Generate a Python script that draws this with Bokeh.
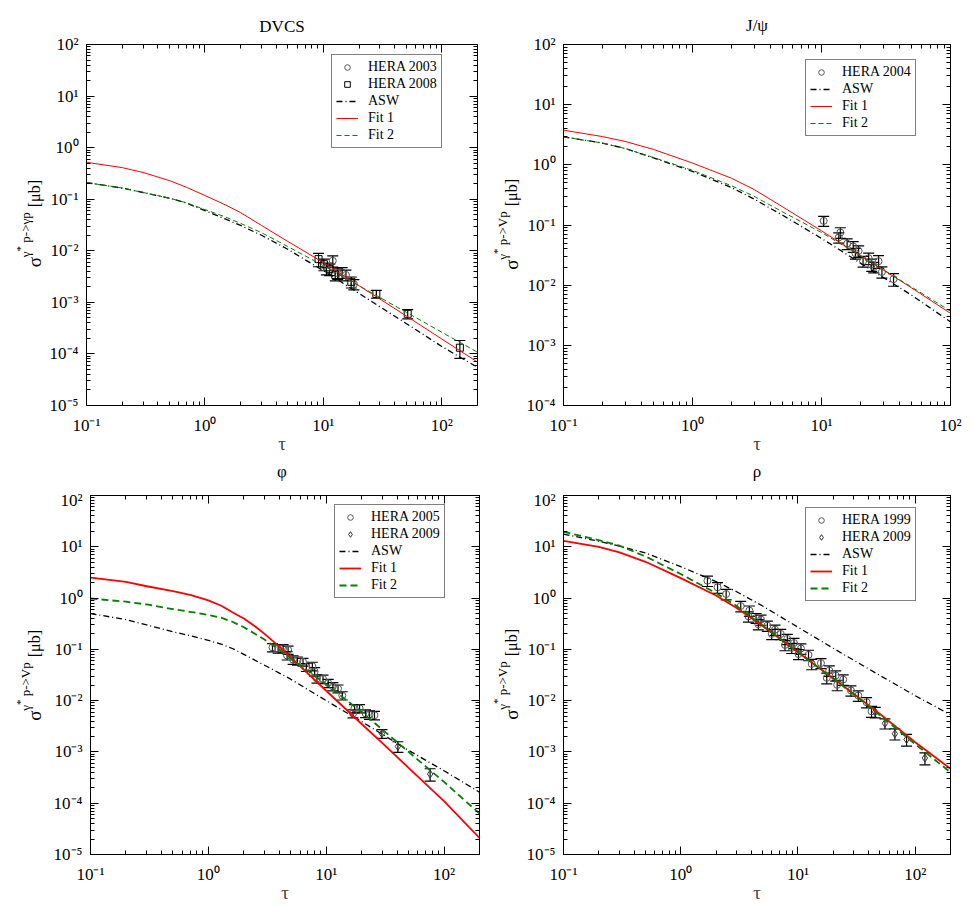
import math
from bokeh.plotting import figure
from bokeh.models import (LogAxis, FixedTicker, CustomJSTickFormatter, Legend, Div, Title,
                          LegendItem, Whisker, TeeHead, ColumnDataSource, Range1d)
from bokeh.layouts import row, column
from bokeh.embed import file_html
from bokeh.resources import INLINE

FONT = "Liberation Serif"

# ---------------- DVCS ----------------
dvcs_tau = [0.1, 0.2, 0.3, 0.5, 0.7, 1, 1.5, 2, 3, 5, 10, 20, 30, 50, 100, 200]
dvcs_fit1 = [0.52, 0.41, 0.33, 0.23, 0.17, 0.118, 0.077, 0.055, 0.031, 0.0152, 0.0059, 0.0021, 0.00116, 0.000546, 0.000194, 0.0000695]
dvcs_fit2 = [0.21, 0.165, 0.135, 0.105, 0.085, 0.063, 0.045, 0.034, 0.0225, 0.0121, 0.00515, 0.0021, 0.00124, 0.000645, 0.000263, 0.000108]
dvcs_asw = [0.21, 0.165, 0.135, 0.105, 0.084, 0.060, 0.041, 0.031, 0.0200, 0.0107, 0.0041, 0.00149, 0.00082, 0.00039, 0.000139, 0.000055]
dvcs_h03_tau = [10.6, 12.0, 13.2, 14.4, 15.5, 18.1]
dvcs_h03_sig = [4.6e-3, 6.4e-3, 3.7e-3, 3.8e-3, 3.4e-3, 2.25e-3]
dvcs_h03_err = [1.2e-3, 1.6e-3, 0.9e-3, 0.9e-3, 0.8e-3, 0.5e-3]
dvcs_h08_tau = [9.1, 10.1, 11.3, 12.6, 17.2, 28.0, 51.5, 142.0]
dvcs_h08_sig = [6.9e-3, 5.5e-3, 4.4e-3, 3.4e-3, 2.5e-3, 1.45e-3, 6.0e-4, 1.32e-4]
dvcs_h08_err = [2.0e-3, 1.4e-3, 1.1e-3, 0.8e-3, 0.6e-3, 0.25e-3, 1.2e-4, 5e-5]

# ---------------- J/psi ----------------
jpsi_tau = [0.1, 0.2, 0.3, 0.5, 1, 2, 3, 5, 10, 20, 30, 50, 100]
jpsi_fit1 = [3.77, 2.95, 2.45, 1.80, 1.07, 0.60, 0.39, 0.20, 0.080, 0.031, 0.018, 0.0090, 0.0034]
jpsi_fit2 = [2.92, 2.3, 1.87, 1.32, 0.81, 0.45, 0.30, 0.165, 0.075, 0.031, 0.0182, 0.0093, 0.0037]
jpsi_asw = [2.92, 2.3, 1.87, 1.30, 0.78, 0.42, 0.27, 0.145, 0.060, 0.0233, 0.0135, 0.0068, 0.00246]
jpsi_h04_tau = [10.4, 13.6, 14.0, 15.8, 17.6, 18.3, 19.4, 21.0, 23.2, 24.5, 25.4, 27.7, 29.4, 36.2]
jpsi_h04_sig = [0.117, 0.062, 0.075, 0.049, 0.044, 0.034, 0.037, 0.025, 0.028, 0.022, 0.020, 0.025, 0.0166, 0.0126]
jpsi_h04_err = [0.022, 0.012, 0.015, 0.010, 0.009, 0.007, 0.008, 0.005, 0.006, 0.005, 0.004, 0.006, 0.0035, 0.003]

# ---------------- phi ----------------
phi_tau = [0.1, 0.2, 0.3, 0.5, 0.7, 1, 1.3, 1.6, 2, 2.5, 3, 4, 5, 10, 20, 30, 50, 100, 200]
phi_fit1 = [2.5, 2.07, 1.70, 1.36, 1.16, 0.90, 0.70, 0.53, 0.40, 0.28, 0.20, 0.113, 0.070, 0.0156, 0.0035, 0.00148, 0.00049, 0.00011, 0.000021]
phi_fit2 = [0.98, 0.85, 0.75, 0.61, 0.54, 0.47, 0.41, 0.345, 0.27, 0.20, 0.155, 0.098, 0.067, 0.0208, 0.0060, 0.00272, 0.00100, 0.00026, 0.000063]
phi_asw = [0.50, 0.38, 0.30, 0.22, 0.185, 0.15, 0.125, 0.104, 0.080, 0.061, 0.049, 0.0345, 0.0262, 0.0100, 0.0039, 0.0022, 0.00107, 0.00043, 0.000164]
phi_h05_tau = [3.50, 3.91, 4.31, 4.75, 4.66, 5.24, 5.70, 6.36, 6.79, 7.63, 7.98, 8.35, 9.4, 10.4, 11.4, 12.6, 13.7, 16.9, 17.4, 19.2, 21.6, 23.3, 25.7]
phi_h05_sig = [0.109, 0.103, 0.105, 0.098, 0.076, 0.063, 0.060, 0.057, 0.045, 0.047, 0.037, 0.027, 0.0265, 0.022, 0.019, 0.0172, 0.0126, 0.0056, 0.0071, 0.0071, 0.00565, 0.0053, 0.0052]
phi_h05_err = [0.02, 0.019, 0.019, 0.018, 0.014, 0.012, 0.011, 0.010, 0.008, 0.009, 0.007, 0.005, 0.005, 0.004, 0.0035, 0.003, 0.0023, 0.001, 0.0013, 0.0013, 0.001, 0.001, 0.001]
phi_h09_tau = [29.7, 40.6, 76.2]
phi_h09_sig = [2.28e-3, 1.28e-3, 3.7e-4]
phi_h09_err = [4.5e-4, 3.0e-4, 1.0e-4]

# ---------------- rho ----------------
rho_tau = [0.1, 0.2, 0.3, 0.5, 1, 2, 3, 5, 10, 20, 30, 50, 100, 200]
rho_fit1 = [13.1, 10.0, 7.8, 5.1, 2.45, 1.12, 0.64, 0.285, 0.088, 0.027, 0.0135, 0.0055, 0.00155, 0.00047]
rho_fit2 = [19.6, 13.5, 10.5, 6.5, 2.94, 1.25, 0.70, 0.29, 0.087, 0.027, 0.0132, 0.0052, 0.00142, 0.00040]
rho_asw = [17.7, 12.8, 10.3, 7.6, 4.1, 2.1, 1.33, 0.70, 0.27, 0.105, 0.061, 0.031, 0.0125, 0.0053]
rho_h99_tau = [1.69, 2.06, 2.44, 3.25, 3.85, 3.78, 4.39, 4.84, 4.59, 5.48, 6.37, 5.97, 7.13, 8.11, 7.75, 9.25, 8.84, 10.6, 10.1, 12.3, 13.1, 15.7, 18.5, 17.6, 21.0, 24.3, 21.6, 28.3, 32.7, 38.5, 42.4]
rho_h99_sig = [2.18, 1.62, 1.20, 0.70, 0.57, 0.44, 0.41, 0.38, 0.31, 0.29, 0.243, 0.20, 0.20, 0.16, 0.122, 0.133, 0.107, 0.104, 0.081, 0.078, 0.052, 0.054, 0.0386, 0.0278, 0.031, 0.0258, 0.0203, 0.0158, 0.0126, 0.0093, 0.0062]
rho_h99_err = [0.5, 0.38, 0.28, 0.16, 0.13, 0.10, 0.09, 0.085, 0.07, 0.065, 0.055, 0.045, 0.045, 0.036, 0.028, 0.03, 0.024, 0.024, 0.018, 0.018, 0.012, 0.012, 0.009, 0.0065, 0.007, 0.006, 0.0047, 0.0036, 0.0029, 0.0021, 0.0015]
rho_h09_tau = [45.6, 55.2, 67.1, 84.4, 121.0]
rho_h09_sig = [6.0e-3, 3.6e-3, 2.26e-3, 1.75e-3, 7.6e-4]
rho_h09_err = [1.4e-3, 8e-4, 5.5e-4, 4.5e-4, 2.0e-4]

SUP_JS = """
const m = {"-":"\u207b","0":"\u2070","1":"\u00b9","2":"\u00b2","3":"\u00b3","4":"\u2074","5":"\u2075","6":"\u2076","7":"\u2077","8":"\u2078","9":"\u2079"};
const e = Math.round(Math.log10(tick));
let s = "";
for (const c of String(e)) { s += m[c]; }
return "10" + s;
"""


def make_ticker(lo, hi):
    lo_e = int(round(math.log10(lo)))
    hi_e = int(math.floor(math.log10(hi) + 1e-9))
    majors = [10.0 ** e for e in range(lo_e, hi_e + 1)]
    minors = [m * 10.0 ** e for e in range(lo_e, hi_e + 1) for m in range(2, 10)
              if m * 10.0 ** e <= hi * 1.0001]
    return FixedTicker(ticks=majors, minor_ticks=minors)


def style_axis(ax, show_labels, standoff):
    ax.axis_line_color = "black"
    ax.axis_line_width = 1
    ax.major_tick_in = 8
    ax.major_tick_out = 0
    ax.minor_tick_in = 4
    ax.minor_tick_out = 0
    ax.major_tick_line_color = "black"
    ax.minor_tick_line_color = "black"
    ax.formatter = CustomJSTickFormatter(code=SUP_JS)
    if show_labels:
        ax.major_label_text_font = FONT
        ax.major_label_text_font_size = "17px"
        ax.major_label_text_color = "black"
        ax.major_label_standoff = standoff
    else:
        ax.major_label_text_font_size = "1px"
        ax.major_label_text_alpha = 0.0
        ax.major_label_standoff = 0


def ylabel_div(width, height, bt, fh, sup):
    html = (
        f'<div style="position:absolute; left:0px; top:{bt}px; width:{width}px; height:{fh}px; '
        'display:flex; align-items:center; justify-content:flex-end;">'
        '<span style="writing-mode:vertical-rl; transform:rotate(180deg); white-space:nowrap; '
        f"font-family:'{FONT}'; font-size:19px; line-height:1; color:#000;\">"
        'σ<span style="font-size:13px; vertical-align:9px;">γ'
        '<span style="font-size:11px; vertical-align:6px;">*</span>'
        f' {sup}</span> <span style="font-size:16px;">[μb]</span></span></div>'
    )
    return Div(text=html, width=width, height=height, margin=0)


def set_title_padding(t, bottom):
    for val in (dict(top=0, right=0, bottom=bottom, left=0), (0, 0, bottom, 0)):
        try:
            t.padding = val
            return
        except Exception:
            continue


def style_title(t):
    t.align = "center"
    t.text_font = FONT
    t.text_font_size = "17px"
    t.text_font_style = "normal"
    t.text_color = "black"


def panel(title, tau, fit1, fit2, asw, datasets, xmax, ymin, borders, thick,
          legend_xy, width, height, title_pad=4, below_title=None):
    bl, br, bt, bb = borders
    kw = {} if title else {"title_location": None}
    p = figure(width=width, height=height, x_axis_type="log", y_axis_type="log",
               x_range=Range1d(0.1, xmax), y_range=Range1d(ymin, 100),
               output_backend="svg", toolbar_location=None,
               min_border_left=bl, min_border_right=br, min_border_top=bt, min_border_bottom=bb,
               **kw)
    p.xgrid.visible = False
    p.ygrid.visible = False
    p.outline_line_color = "black"
    p.background_fill_color = "white"
    p.border_fill_color = "white"

    if title:
        p.title.text = title
        style_title(p.title)
        set_title_padding(p.title, title_pad)

    p.xaxis.ticker = make_ticker(0.1, xmax)
    p.yaxis.ticker = make_ticker(ymin, 100)
    for ax in p.xaxis:
        style_axis(ax, True, 10)
        ax.axis_label = "τ"
        ax.axis_label_text_font = FONT
        ax.axis_label_text_font_size = "19px"
        ax.axis_label_text_font_style = "normal"
        try:
            ax.axis_label_standoff = -5
        except Exception:
            ax.axis_label_standoff = 0
    for ax in p.yaxis:
        style_axis(ax, True, 8)
    top = LogAxis(ticker=make_ticker(0.1, xmax))
    style_axis(top, False, 0)
    p.add_layout(top, "above")
    right = LogAxis(ticker=make_ticker(ymin, 100))
    style_axis(right, False, 0)
    p.add_layout(right, "right")

    if below_title:
        bt_title = Title(text=below_title)
        style_title(bt_title)
        bt_title.vertical_align = "top"
        p.add_layout(bt_title, "below")

    lw_fit = 1.8 if thick else 1.0
    dash2 = "7 4" if thick else "5 3"
    items = []
    for (lab, marker, t, s, e, col, size) in datasets:
        lower = [si - ei for si, ei in zip(s, e)]
        upper = [si + ei for si, ei in zip(s, e)]
        src = ColumnDataSource(dict(base=t, lower=lower, upper=upper))
        w = Whisker(base="base", lower="lower", upper="upper", source=src,
                    dimension="height", line_color="black", line_width=1.2,
                    upper_head=TeeHead(size=11, line_color="black", line_width=1.2),
                    lower_head=TeeHead(size=11, line_color="black", line_width=1.2))
        p.add_layout(w)
        r = p.scatter(t, s, marker=marker, size=size, line_color=col, line_width=1,
                      fill_color="white", fill_alpha=0.0)
        items.append(LegendItem(label=lab, renderers=[r]))

    r_asw = p.line(tau, asw, line_color="black", line_width=1.3, line_dash="6 3 1 3")
    r_f1 = p.line(tau, fit1, line_color="#ff0000", line_width=lw_fit)
    r_f2 = p.line(tau, fit2, line_color="#008000", line_width=lw_fit, line_dash=dash2)
    items += [LegendItem(label="ASW", renderers=[r_asw]),
              LegendItem(label="Fit 1", renderers=[r_f1]),
              LegendItem(label="Fit 2", renderers=[r_f2])]

    leg = Legend(items=items, location=legend_xy, orientation="vertical")
    leg.label_text_font = FONT
    leg.label_text_font_size = "14px"
    leg.label_text_color = "black"
    leg.border_line_color = "black"
    leg.border_line_width = 1
    leg.background_fill_color = "white"
    leg.background_fill_alpha = 1.0
    leg.padding = 4
    leg.margin = 0
    leg.spacing = 1
    leg.glyph_width = 22
    leg.glyph_height = 14
    leg.label_height = 14
    leg.label_standoff = 10
    p.add_layout(leg)
    return p


# page geometry: left column 0..487, right column 487..974; top row 0..490, bottom row 490..915
# (the titles of the lower panels sit in the bottom border of the upper panels)
p1 = panel("DVCS", dvcs_tau, dvcs_fit1, dvcs_fit2, dvcs_asw,
           [("HERA 2003", "circle", dvcs_h03_tau, dvcs_h03_sig, dvcs_h03_err, "#555555", 7),
            ("HERA 2008", "square", dvcs_h08_tau, dvcs_h08_sig, dvcs_h08_err, "black", 7)],
           200, 1e-5, (42, 10, 42, 85), False, (245, 257), 443, 490, 4, "φ")
p2 = panel("J/ψ", jpsi_tau, jpsi_fit1, jpsi_fit2, jpsi_asw,
           [("HERA 2004", "circle", jpsi_h04_tau, jpsi_h04_sig, jpsi_h04_err, "#555555", 7)],
           100, 1e-4, (42, 24, 44, 85), False, (242, 269), 453, 490, 5, "ρ")
p3 = panel(None, phi_tau, phi_fit1, phi_fit2, phi_asw,
           [("HERA 2005", "circle", phi_h05_tau, phi_h05_sig, phi_h05_err, "#555555", 7),
            ("HERA 2009", "diamond", phi_h09_tau, phi_h09_sig, phi_h09_err, "#333333", 8)],
           200, 1e-5, (46, 8, 5, 59), True, (244, 256), 443, 425)
p4 = panel(None, rho_tau, rho_fit1, rho_fit2, rho_asw,
           [("HERA 1999", "circle", rho_h99_tau, rho_h99_sig, rho_h99_err, "#555555", 7),
            ("HERA 2009", "diamond", rho_h09_tau, rho_h09_sig, rho_h09_err, "#333333", 8)],
           200, 1e-5, (42, 24, 5, 61), True, (242, 253), 453, 425)

d1 = ylabel_div(44, 490, 42, 363, "p-&gt;γp")
d2 = ylabel_div(34, 490, 44, 361, "p-&gt;Vp")
d3 = ylabel_div(44, 425, 5, 361, "p-&gt;Vp")
d4 = ylabel_div(34, 425, 5, 359, "p-&gt;Vp")

layout = column(row(d1, p1, d2, p2), row(d3, p3, d4, p4))
open("out.html", "w", encoding="utf-8").write(file_html(layout, INLINE))
